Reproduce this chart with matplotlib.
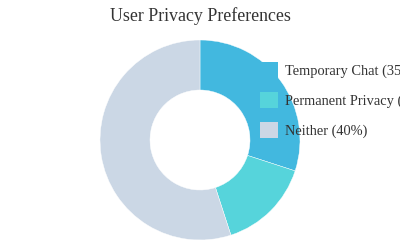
import matplotlib.pyplot as plt
from matplotlib.patches import Patch

# data
categories = ['Temporary Chat', 'Permanent Privacy', 'Neither']
values = [30, 15, 55]
legend_labels = ['Temporary Chat (35%)', 'Permanent Privacy (25%)', 'Neither (40%)']
colors = ['#42b8df', '#56d4db', '#cbd7e5']

plt.rcParams['font.family'] = ['Liberation Serif', 'DejaVu Serif']

fig = plt.figure(figsize=(4, 2.5), dpi=100)
ax = fig.add_axes([0, 0, 1, 1])

# donut, starts at 12 o'clock and goes clockwise
ax.pie(values, colors=colors, startangle=90, counterclock=False,
       center=(200, 110), radius=100, frame=True,
       wedgeprops=dict(width=50, edgecolor='white', linewidth=0.3))
ax.set_xlim(0, 400)
ax.set_ylim(0, 250)
ax.set_aspect('equal')
ax.axis('off')

ax.text(200, 234, 'User Privacy Preferences', ha='center', va='center',
        fontsize=12.9, color='#333333')

handles = [Patch(facecolor=c, edgecolor='none') for c in colors]
ax.legend(handles, legend_labels, loc='upper left',
          bbox_to_anchor=(260 / 400, 1 - 61.5 / 250), frameon=False,
          fontsize=10.4, handlelength=1.27, handleheight=1.33,
          handletextpad=0.47, labelspacing=0.98, borderpad=0,
          borderaxespad=0, labelcolor='#333333')

fig.savefig('out.png', dpi=100)
